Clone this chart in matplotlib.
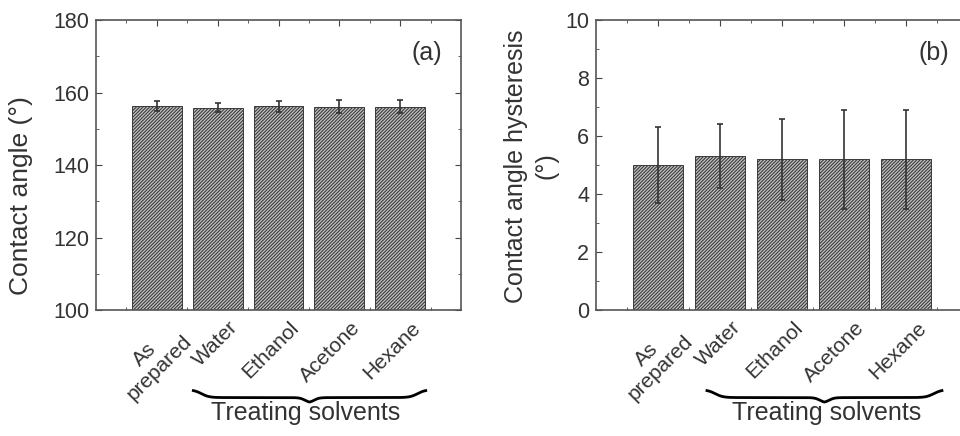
import numpy as np
import matplotlib.pyplot as plt
import matplotlib.transforms as mtransforms

# Dane
labels = ["As\nprepared", "Water", "Ethanol", "Acetone", "Hexane"]
angle = [156.3, 155.8, 156.2, 156.1, 156.1]
angle_err = [1.3, 1.3, 1.5, 1.8, 1.7]
hysteresis = [5.0, 5.3, 5.2, 5.2, 5.2]
hysteresis_err = [1.3, 1.1, 1.4, 1.7, 1.7]

txt = "#333333"
plt.rcParams["font.family"] = "Liberation Sans"
plt.rcParams["hatch.linewidth"] = 0.8
plt.rcParams["hatch.color"] = "#3a3a3a"

fig = plt.figure(figsize=(9.6, 4.36), dpi=100)
ax1 = fig.add_axes([96 / 960, 1 - 310 / 436, 365 / 960, 290 / 436])
ax2 = fig.add_axes([596 / 960, 1 - 310 / 436, 372 / 960, 290 / 436])

x = np.arange(1, len(labels) + 1)


def brace(ax, x0, x1, y, h):
    # klamra pod etykietami
    t = np.linspace(0, 1, 400)
    xs = x0 + (x1 - x0) * t
    half = np.where(t < 0.5, t * 2, (1 - t) * 2)
    ys = y - h * (0.6 / (1 + np.exp(-30 * (half - 0.07))) + 0.4 / (1 + np.exp(-45 * (half - 0.96))))
    tr = mtransforms.blended_transform_factory(ax.transData, ax.transAxes)
    ax.plot(xs, ys, color="black", lw=2.0, transform=tr, clip_on=False)


def panel(ax, vals, errs, ylim, major, minor, ylabel, ylabel_fs, tag,
          ylabel_xy, tag_x, br, title_x):
    ax.bar(x, vals, width=0.82, color="#c4c4c4", edgecolor="#3a3a3a",
           hatch="//////////", linewidth=0.7, zorder=2)
    ax.errorbar(x, vals, yerr=errs, fmt="none", ecolor="#333333",
                elinewidth=1.2, capsize=2.5, capthick=1.2, zorder=3)
    ax.set_xlim(0, 6)
    ax.set_ylim(*ylim)
    ax.set_yticks(np.arange(ylim[0], ylim[1] + 0.01, major))
    ax.set_yticks(np.arange(ylim[0], ylim[1] + 0.01, minor), minor=True)
    ax.set_xticks(x)
    ax.set_xticks(np.arange(0.5, 6, 1), minor=True)
    ax.set_xticklabels([])
    # etykiety osi x przesunięte jak w oryginale
    tr = mtransforms.blended_transform_factory(ax.transData, ax.transAxes)
    tr = tr + mtransforms.ScaledTranslation(11 / 100, -8 / 100, fig.dpi_scale_trans)
    for xi, lab in zip(x, labels):
        ax.text(xi, 0, lab, transform=tr, rotation=45, ha="right", va="top",
                rotation_mode="anchor", multialignment="center",
                fontsize=15, color=txt, linespacing=1.05)
    ax.tick_params(axis="y", labelsize=15.5, labelcolor=txt, pad=5)
    ax.tick_params(which="both", direction="in", top=True, right=True,
                   color="#444444")
    ax.tick_params(which="major", length=4)
    ax.tick_params(which="minor", length=2.5)
    for s in ax.spines.values():
        s.set_color("#555555")
        s.set_linewidth(1.2)
    ax.set_ylabel(ylabel, fontsize=ylabel_fs, color=txt, linespacing=1.3)
    ax.yaxis.set_label_coords(*ylabel_xy)
    ax.text(tag_x, 0.886, tag, transform=ax.transAxes, ha="right", va="center",
            fontsize=18, color=txt)
    brace(ax, br[0], br[1], -0.275, 0.045)
    ax.text(title_x, -0.355, "Treating solvents",
            transform=mtransforms.blended_transform_factory(ax.transData, ax.transAxes),
            ha="center", va="center", fontsize=18, color=txt)


panel(ax1, angle, angle_err, (100, 180), 20, 10, "Contact angle (°)", 19,
      "(a)", (-0.173, 0.393), 0.948, (1.6, 5.42), 3.45)
panel(ax2, hysteresis, hysteresis_err, (0, 10), 2, 1,
      "Contact angle hysteresis\n(°)", 18, "(b)", (-0.102, 0.497), 0.95,
      (1.79, 5.58), 3.72)

fig.savefig("out.png", dpi=100)
